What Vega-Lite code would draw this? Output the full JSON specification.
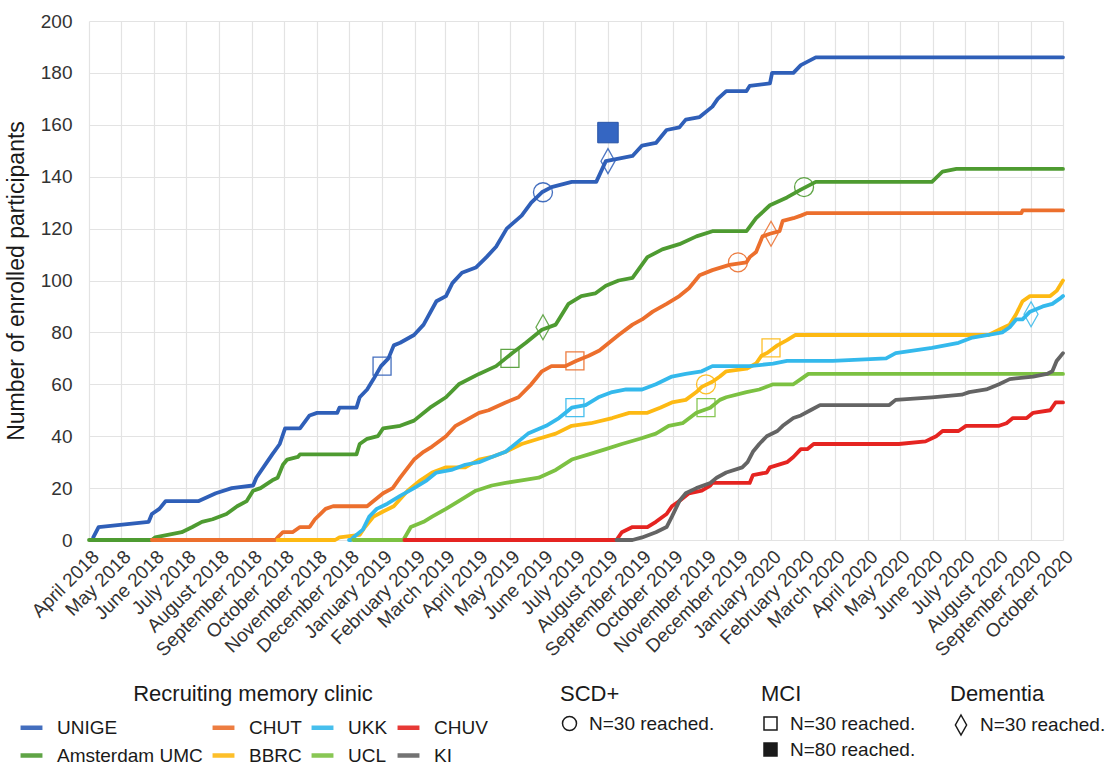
{
  "$schema": "https://vega.github.io/schema/vega-lite/v6.json",
  "width": 974,
  "height": 519,
  "autosize": {"type": "none"},
  "padding": {"left": 89, "top": 21, "right": 46, "bottom": 224},
  "background": "white",
  "config": {
    "font": "Liberation Sans",
    "view": {"stroke": null},
    "axis": {"gridColor": "#E3E3E3", "gridWidth": 1.2, "domain": false, "ticks": false, "labelColor": "#333333", "titleColor": "#1a1a1a", "labelFont": "Liberation Sans", "titleFont": "Liberation Sans", "titleFontWeight": "normal"},
    "legend": {"labelFont": "Liberation Sans", "titleFont": "Liberation Sans", "labelColor": "#1a1a1a", "titleColor": "#1a1a1a", "titleFontWeight": "normal", "labelFontSize": 19, "titleFontSize": 22, "padding": 0, "labelLimit": 300, "titleLimit": 500}
  },
  "datasets": {
    "lines": [
      {"clinic": "UNIGE", "date": "2018-04-05", "n": 1},
      {"clinic": "UNIGE", "date": "2018-04-10", "n": 5},
      {"clinic": "UNIGE", "date": "2018-05-27", "n": 7},
      {"clinic": "UNIGE", "date": "2018-05-30", "n": 10},
      {"clinic": "UNIGE", "date": "2018-06-06", "n": 12},
      {"clinic": "UNIGE", "date": "2018-06-12", "n": 15},
      {"clinic": "UNIGE", "date": "2018-07-13", "n": 15},
      {"clinic": "UNIGE", "date": "2018-07-29", "n": 18},
      {"clinic": "UNIGE", "date": "2018-08-13", "n": 20},
      {"clinic": "UNIGE", "date": "2018-09-02", "n": 21},
      {"clinic": "UNIGE", "date": "2018-09-05", "n": 24},
      {"clinic": "UNIGE", "date": "2018-09-15", "n": 30},
      {"clinic": "UNIGE", "date": "2018-09-20", "n": 33},
      {"clinic": "UNIGE", "date": "2018-09-27", "n": 37},
      {"clinic": "UNIGE", "date": "2018-10-02", "n": 43},
      {"clinic": "UNIGE", "date": "2018-10-16", "n": 43},
      {"clinic": "UNIGE", "date": "2018-10-25", "n": 48},
      {"clinic": "UNIGE", "date": "2018-11-01", "n": 49},
      {"clinic": "UNIGE", "date": "2018-11-20", "n": 49},
      {"clinic": "UNIGE", "date": "2018-11-22", "n": 51},
      {"clinic": "UNIGE", "date": "2018-12-08", "n": 51},
      {"clinic": "UNIGE", "date": "2018-12-11", "n": 55},
      {"clinic": "UNIGE", "date": "2018-12-18", "n": 58},
      {"clinic": "UNIGE", "date": "2018-12-24", "n": 62},
      {"clinic": "UNIGE", "date": "2018-12-31", "n": 67},
      {"clinic": "UNIGE", "date": "2019-01-07", "n": 70},
      {"clinic": "UNIGE", "date": "2019-01-12", "n": 75},
      {"clinic": "UNIGE", "date": "2019-01-18", "n": 76},
      {"clinic": "UNIGE", "date": "2019-01-31", "n": 79},
      {"clinic": "UNIGE", "date": "2019-02-09", "n": 83},
      {"clinic": "UNIGE", "date": "2019-02-21", "n": 92},
      {"clinic": "UNIGE", "date": "2019-03-02", "n": 94},
      {"clinic": "UNIGE", "date": "2019-03-08", "n": 99},
      {"clinic": "UNIGE", "date": "2019-03-17", "n": 103},
      {"clinic": "UNIGE", "date": "2019-03-30", "n": 105},
      {"clinic": "UNIGE", "date": "2019-04-09", "n": 109},
      {"clinic": "UNIGE", "date": "2019-04-18", "n": 113},
      {"clinic": "UNIGE", "date": "2019-04-28", "n": 120},
      {"clinic": "UNIGE", "date": "2019-05-12", "n": 125},
      {"clinic": "UNIGE", "date": "2019-05-21", "n": 130},
      {"clinic": "UNIGE", "date": "2019-05-31", "n": 134},
      {"clinic": "UNIGE", "date": "2019-06-09", "n": 136},
      {"clinic": "UNIGE", "date": "2019-06-28", "n": 138},
      {"clinic": "UNIGE", "date": "2019-07-21", "n": 138},
      {"clinic": "UNIGE", "date": "2019-07-30", "n": 146},
      {"clinic": "UNIGE", "date": "2019-08-11", "n": 147},
      {"clinic": "UNIGE", "date": "2019-08-24", "n": 148},
      {"clinic": "UNIGE", "date": "2019-09-02", "n": 152},
      {"clinic": "UNIGE", "date": "2019-09-15", "n": 153},
      {"clinic": "UNIGE", "date": "2019-09-25", "n": 158},
      {"clinic": "UNIGE", "date": "2019-10-07", "n": 159},
      {"clinic": "UNIGE", "date": "2019-10-13", "n": 162},
      {"clinic": "UNIGE", "date": "2019-10-26", "n": 163},
      {"clinic": "UNIGE", "date": "2019-11-07", "n": 167},
      {"clinic": "UNIGE", "date": "2019-11-12", "n": 170},
      {"clinic": "UNIGE", "date": "2019-11-20", "n": 173},
      {"clinic": "UNIGE", "date": "2019-12-09", "n": 173},
      {"clinic": "UNIGE", "date": "2019-12-12", "n": 175},
      {"clinic": "UNIGE", "date": "2019-12-31", "n": 176},
      {"clinic": "UNIGE", "date": "2020-01-02", "n": 180},
      {"clinic": "UNIGE", "date": "2020-01-22", "n": 180},
      {"clinic": "UNIGE", "date": "2020-01-29", "n": 183},
      {"clinic": "UNIGE", "date": "2020-02-12", "n": 186},
      {"clinic": "UNIGE", "date": "2020-10-01", "n": 186},

      {"clinic": "Amsterdam UMC", "date": "2018-04-01", "n": 0},
      {"clinic": "Amsterdam UMC", "date": "2018-05-30", "n": 0},
      {"clinic": "Amsterdam UMC", "date": "2018-06-02", "n": 1},
      {"clinic": "Amsterdam UMC", "date": "2018-06-27", "n": 3},
      {"clinic": "Amsterdam UMC", "date": "2018-07-07", "n": 5},
      {"clinic": "Amsterdam UMC", "date": "2018-07-16", "n": 7},
      {"clinic": "Amsterdam UMC", "date": "2018-07-26", "n": 8},
      {"clinic": "Amsterdam UMC", "date": "2018-08-08", "n": 10},
      {"clinic": "Amsterdam UMC", "date": "2018-08-18", "n": 13},
      {"clinic": "Amsterdam UMC", "date": "2018-08-27", "n": 15},
      {"clinic": "Amsterdam UMC", "date": "2018-09-02", "n": 19},
      {"clinic": "Amsterdam UMC", "date": "2018-09-09", "n": 20},
      {"clinic": "Amsterdam UMC", "date": "2018-09-20", "n": 23},
      {"clinic": "Amsterdam UMC", "date": "2018-09-25", "n": 24},
      {"clinic": "Amsterdam UMC", "date": "2018-09-30", "n": 29},
      {"clinic": "Amsterdam UMC", "date": "2018-10-04", "n": 31},
      {"clinic": "Amsterdam UMC", "date": "2018-10-14", "n": 32},
      {"clinic": "Amsterdam UMC", "date": "2018-10-16", "n": 33},
      {"clinic": "Amsterdam UMC", "date": "2018-12-08", "n": 33},
      {"clinic": "Amsterdam UMC", "date": "2018-12-11", "n": 37},
      {"clinic": "Amsterdam UMC", "date": "2018-12-18", "n": 39},
      {"clinic": "Amsterdam UMC", "date": "2018-12-28", "n": 40},
      {"clinic": "Amsterdam UMC", "date": "2019-01-02", "n": 43},
      {"clinic": "Amsterdam UMC", "date": "2019-01-18", "n": 44},
      {"clinic": "Amsterdam UMC", "date": "2019-01-31", "n": 46},
      {"clinic": "Amsterdam UMC", "date": "2019-02-15", "n": 51},
      {"clinic": "Amsterdam UMC", "date": "2019-03-02", "n": 55},
      {"clinic": "Amsterdam UMC", "date": "2019-03-14", "n": 60},
      {"clinic": "Amsterdam UMC", "date": "2019-04-02", "n": 64},
      {"clinic": "Amsterdam UMC", "date": "2019-04-18", "n": 67},
      {"clinic": "Amsterdam UMC", "date": "2019-05-03", "n": 72},
      {"clinic": "Amsterdam UMC", "date": "2019-05-16", "n": 76},
      {"clinic": "Amsterdam UMC", "date": "2019-05-31", "n": 81},
      {"clinic": "Amsterdam UMC", "date": "2019-06-13", "n": 83},
      {"clinic": "Amsterdam UMC", "date": "2019-06-25", "n": 91},
      {"clinic": "Amsterdam UMC", "date": "2019-07-07", "n": 94},
      {"clinic": "Amsterdam UMC", "date": "2019-07-20", "n": 95},
      {"clinic": "Amsterdam UMC", "date": "2019-07-30", "n": 98},
      {"clinic": "Amsterdam UMC", "date": "2019-08-11", "n": 100},
      {"clinic": "Amsterdam UMC", "date": "2019-08-24", "n": 101},
      {"clinic": "Amsterdam UMC", "date": "2019-09-07", "n": 109},
      {"clinic": "Amsterdam UMC", "date": "2019-09-21", "n": 112},
      {"clinic": "Amsterdam UMC", "date": "2019-10-07", "n": 114},
      {"clinic": "Amsterdam UMC", "date": "2019-10-23", "n": 117},
      {"clinic": "Amsterdam UMC", "date": "2019-11-07", "n": 119},
      {"clinic": "Amsterdam UMC", "date": "2019-12-09", "n": 119},
      {"clinic": "Amsterdam UMC", "date": "2019-12-18", "n": 124},
      {"clinic": "Amsterdam UMC", "date": "2019-12-31", "n": 129},
      {"clinic": "Amsterdam UMC", "date": "2020-01-16", "n": 132},
      {"clinic": "Amsterdam UMC", "date": "2020-01-29", "n": 135},
      {"clinic": "Amsterdam UMC", "date": "2020-02-12", "n": 138},
      {"clinic": "Amsterdam UMC", "date": "2020-05-31", "n": 138},
      {"clinic": "Amsterdam UMC", "date": "2020-06-10", "n": 142},
      {"clinic": "Amsterdam UMC", "date": "2020-06-23", "n": 143},
      {"clinic": "Amsterdam UMC", "date": "2020-10-01", "n": 143},

      {"clinic": "CHUT", "date": "2018-05-30", "n": 0},
      {"clinic": "CHUT", "date": "2018-09-23", "n": 0},
      {"clinic": "CHUT", "date": "2018-09-25", "n": 1},
      {"clinic": "CHUT", "date": "2018-09-30", "n": 3},
      {"clinic": "CHUT", "date": "2018-10-09", "n": 3},
      {"clinic": "CHUT", "date": "2018-10-16", "n": 5},
      {"clinic": "CHUT", "date": "2018-10-25", "n": 5},
      {"clinic": "CHUT", "date": "2018-10-30", "n": 8},
      {"clinic": "CHUT", "date": "2018-11-04", "n": 10},
      {"clinic": "CHUT", "date": "2018-11-09", "n": 12},
      {"clinic": "CHUT", "date": "2018-11-16", "n": 13},
      {"clinic": "CHUT", "date": "2018-12-18", "n": 13},
      {"clinic": "CHUT", "date": "2018-12-24", "n": 15},
      {"clinic": "CHUT", "date": "2019-01-02", "n": 18},
      {"clinic": "CHUT", "date": "2019-01-11", "n": 20},
      {"clinic": "CHUT", "date": "2019-01-18", "n": 24},
      {"clinic": "CHUT", "date": "2019-01-31", "n": 31},
      {"clinic": "CHUT", "date": "2019-02-09", "n": 34},
      {"clinic": "CHUT", "date": "2019-02-17", "n": 36},
      {"clinic": "CHUT", "date": "2019-03-02", "n": 40},
      {"clinic": "CHUT", "date": "2019-03-11", "n": 44},
      {"clinic": "CHUT", "date": "2019-03-20", "n": 46},
      {"clinic": "CHUT", "date": "2019-04-02", "n": 49},
      {"clinic": "CHUT", "date": "2019-04-11", "n": 50},
      {"clinic": "CHUT", "date": "2019-04-27", "n": 53},
      {"clinic": "CHUT", "date": "2019-05-09", "n": 55},
      {"clinic": "CHUT", "date": "2019-05-21", "n": 60},
      {"clinic": "CHUT", "date": "2019-05-31", "n": 65},
      {"clinic": "CHUT", "date": "2019-06-09", "n": 67},
      {"clinic": "CHUT", "date": "2019-06-22", "n": 67},
      {"clinic": "CHUT", "date": "2019-07-02", "n": 69},
      {"clinic": "CHUT", "date": "2019-07-14", "n": 71},
      {"clinic": "CHUT", "date": "2019-07-24", "n": 73},
      {"clinic": "CHUT", "date": "2019-08-02", "n": 76},
      {"clinic": "CHUT", "date": "2019-08-11", "n": 79},
      {"clinic": "CHUT", "date": "2019-08-24", "n": 83},
      {"clinic": "CHUT", "date": "2019-09-02", "n": 85},
      {"clinic": "CHUT", "date": "2019-09-12", "n": 88},
      {"clinic": "CHUT", "date": "2019-09-25", "n": 91},
      {"clinic": "CHUT", "date": "2019-10-07", "n": 94},
      {"clinic": "CHUT", "date": "2019-10-16", "n": 97},
      {"clinic": "CHUT", "date": "2019-10-26", "n": 102},
      {"clinic": "CHUT", "date": "2019-11-07", "n": 104},
      {"clinic": "CHUT", "date": "2019-11-23", "n": 106},
      {"clinic": "CHUT", "date": "2019-12-09", "n": 107},
      {"clinic": "CHUT", "date": "2019-12-12", "n": 109},
      {"clinic": "CHUT", "date": "2019-12-18", "n": 111},
      {"clinic": "CHUT", "date": "2019-12-24", "n": 117},
      {"clinic": "CHUT", "date": "2019-12-31", "n": 118},
      {"clinic": "CHUT", "date": "2020-01-09", "n": 119},
      {"clinic": "CHUT", "date": "2020-01-12", "n": 123},
      {"clinic": "CHUT", "date": "2020-01-22", "n": 124},
      {"clinic": "CHUT", "date": "2020-01-29", "n": 125},
      {"clinic": "CHUT", "date": "2020-02-04", "n": 126},
      {"clinic": "CHUT", "date": "2020-08-23", "n": 126},
      {"clinic": "CHUT", "date": "2020-08-24", "n": 127},
      {"clinic": "CHUT", "date": "2020-10-01", "n": 127},

      {"clinic": "BBRC", "date": "2018-09-25", "n": 0},
      {"clinic": "BBRC", "date": "2018-11-18", "n": 0},
      {"clinic": "BBRC", "date": "2018-11-22", "n": 1},
      {"clinic": "BBRC", "date": "2018-12-11", "n": 2},
      {"clinic": "BBRC", "date": "2018-12-16", "n": 5},
      {"clinic": "BBRC", "date": "2018-12-24", "n": 9},
      {"clinic": "BBRC", "date": "2019-01-02", "n": 11},
      {"clinic": "BBRC", "date": "2019-01-12", "n": 13},
      {"clinic": "BBRC", "date": "2019-01-25", "n": 19},
      {"clinic": "BBRC", "date": "2019-02-06", "n": 23},
      {"clinic": "BBRC", "date": "2019-02-17", "n": 26},
      {"clinic": "BBRC", "date": "2019-03-02", "n": 28},
      {"clinic": "BBRC", "date": "2019-03-20", "n": 28},
      {"clinic": "BBRC", "date": "2019-04-02", "n": 31},
      {"clinic": "BBRC", "date": "2019-04-14", "n": 32},
      {"clinic": "BBRC", "date": "2019-04-27", "n": 34},
      {"clinic": "BBRC", "date": "2019-05-12", "n": 37},
      {"clinic": "BBRC", "date": "2019-05-28", "n": 39},
      {"clinic": "BBRC", "date": "2019-06-13", "n": 41},
      {"clinic": "BBRC", "date": "2019-06-28", "n": 44},
      {"clinic": "BBRC", "date": "2019-07-16", "n": 45},
      {"clinic": "BBRC", "date": "2019-08-05", "n": 47},
      {"clinic": "BBRC", "date": "2019-08-21", "n": 49},
      {"clinic": "BBRC", "date": "2019-09-07", "n": 49},
      {"clinic": "BBRC", "date": "2019-09-19", "n": 51},
      {"clinic": "BBRC", "date": "2019-09-30", "n": 53},
      {"clinic": "BBRC", "date": "2019-10-13", "n": 54},
      {"clinic": "BBRC", "date": "2019-10-23", "n": 57},
      {"clinic": "BBRC", "date": "2019-10-28", "n": 59},
      {"clinic": "BBRC", "date": "2019-11-07", "n": 61},
      {"clinic": "BBRC", "date": "2019-11-14", "n": 63},
      {"clinic": "BBRC", "date": "2019-11-20", "n": 65},
      {"clinic": "BBRC", "date": "2019-12-09", "n": 66},
      {"clinic": "BBRC", "date": "2019-12-18", "n": 68},
      {"clinic": "BBRC", "date": "2019-12-23", "n": 71},
      {"clinic": "BBRC", "date": "2019-12-28", "n": 72},
      {"clinic": "BBRC", "date": "2020-01-07", "n": 75},
      {"clinic": "BBRC", "date": "2020-01-16", "n": 77},
      {"clinic": "BBRC", "date": "2020-01-24", "n": 79},
      {"clinic": "BBRC", "date": "2020-07-23", "n": 79},
      {"clinic": "BBRC", "date": "2020-08-02", "n": 81},
      {"clinic": "BBRC", "date": "2020-08-12", "n": 83},
      {"clinic": "BBRC", "date": "2020-08-18", "n": 87},
      {"clinic": "BBRC", "date": "2020-08-24", "n": 92},
      {"clinic": "BBRC", "date": "2020-08-31", "n": 94},
      {"clinic": "BBRC", "date": "2020-09-19", "n": 94},
      {"clinic": "BBRC", "date": "2020-09-25", "n": 96},
      {"clinic": "BBRC", "date": "2020-10-01", "n": 100},

      {"clinic": "UKK", "date": "2018-12-01", "n": 0},
      {"clinic": "UKK", "date": "2018-12-03", "n": 0},
      {"clinic": "UKK", "date": "2018-12-05", "n": 1},
      {"clinic": "UKK", "date": "2018-12-14", "n": 4},
      {"clinic": "UKK", "date": "2018-12-20", "n": 9},
      {"clinic": "UKK", "date": "2018-12-27", "n": 12},
      {"clinic": "UKK", "date": "2019-01-06", "n": 14},
      {"clinic": "UKK", "date": "2019-01-18", "n": 17},
      {"clinic": "UKK", "date": "2019-01-31", "n": 20},
      {"clinic": "UKK", "date": "2019-02-12", "n": 23},
      {"clinic": "UKK", "date": "2019-02-21", "n": 26},
      {"clinic": "UKK", "date": "2019-03-07", "n": 27},
      {"clinic": "UKK", "date": "2019-03-20", "n": 29},
      {"clinic": "UKK", "date": "2019-04-02", "n": 30},
      {"clinic": "UKK", "date": "2019-04-14", "n": 32},
      {"clinic": "UKK", "date": "2019-04-27", "n": 34},
      {"clinic": "UKK", "date": "2019-05-09", "n": 38},
      {"clinic": "UKK", "date": "2019-05-18", "n": 41},
      {"clinic": "UKK", "date": "2019-06-04", "n": 44},
      {"clinic": "UKK", "date": "2019-06-16", "n": 47},
      {"clinic": "UKK", "date": "2019-06-28", "n": 51},
      {"clinic": "UKK", "date": "2019-07-11", "n": 52},
      {"clinic": "UKK", "date": "2019-07-23", "n": 55},
      {"clinic": "UKK", "date": "2019-08-05", "n": 57},
      {"clinic": "UKK", "date": "2019-08-18", "n": 58},
      {"clinic": "UKK", "date": "2019-09-02", "n": 58},
      {"clinic": "UKK", "date": "2019-09-15", "n": 60},
      {"clinic": "UKK", "date": "2019-09-30", "n": 63},
      {"clinic": "UKK", "date": "2019-10-13", "n": 64},
      {"clinic": "UKK", "date": "2019-10-28", "n": 65},
      {"clinic": "UKK", "date": "2019-11-07", "n": 67},
      {"clinic": "UKK", "date": "2019-12-12", "n": 67},
      {"clinic": "UKK", "date": "2020-01-03", "n": 68},
      {"clinic": "UKK", "date": "2020-01-16", "n": 69},
      {"clinic": "UKK", "date": "2020-02-28", "n": 69},
      {"clinic": "UKK", "date": "2020-04-18", "n": 70},
      {"clinic": "UKK", "date": "2020-04-27", "n": 72},
      {"clinic": "UKK", "date": "2020-05-31", "n": 74},
      {"clinic": "UKK", "date": "2020-06-25", "n": 76},
      {"clinic": "UKK", "date": "2020-07-08", "n": 78},
      {"clinic": "UKK", "date": "2020-07-23", "n": 79},
      {"clinic": "UKK", "date": "2020-08-05", "n": 80},
      {"clinic": "UKK", "date": "2020-08-12", "n": 82},
      {"clinic": "UKK", "date": "2020-08-18", "n": 85},
      {"clinic": "UKK", "date": "2020-08-24", "n": 85},
      {"clinic": "UKK", "date": "2020-08-31", "n": 88},
      {"clinic": "UKK", "date": "2020-09-12", "n": 90},
      {"clinic": "UKK", "date": "2020-09-21", "n": 91},
      {"clinic": "UKK", "date": "2020-09-28", "n": 93},
      {"clinic": "UKK", "date": "2020-10-01", "n": 94},

      {"clinic": "UCL", "date": "2018-12-05", "n": 0},
      {"clinic": "UCL", "date": "2019-01-21", "n": 0},
      {"clinic": "UCL", "date": "2019-01-28", "n": 5},
      {"clinic": "UCL", "date": "2019-02-09", "n": 7},
      {"clinic": "UCL", "date": "2019-02-17", "n": 9},
      {"clinic": "UCL", "date": "2019-03-02", "n": 12},
      {"clinic": "UCL", "date": "2019-03-14", "n": 15},
      {"clinic": "UCL", "date": "2019-03-30", "n": 19},
      {"clinic": "UCL", "date": "2019-04-14", "n": 21},
      {"clinic": "UCL", "date": "2019-04-27", "n": 22},
      {"clinic": "UCL", "date": "2019-05-12", "n": 23},
      {"clinic": "UCL", "date": "2019-05-28", "n": 24},
      {"clinic": "UCL", "date": "2019-06-13", "n": 27},
      {"clinic": "UCL", "date": "2019-06-28", "n": 31},
      {"clinic": "UCL", "date": "2019-07-14", "n": 33},
      {"clinic": "UCL", "date": "2019-07-30", "n": 35},
      {"clinic": "UCL", "date": "2019-08-14", "n": 37},
      {"clinic": "UCL", "date": "2019-08-31", "n": 39},
      {"clinic": "UCL", "date": "2019-09-15", "n": 41},
      {"clinic": "UCL", "date": "2019-09-27", "n": 44},
      {"clinic": "UCL", "date": "2019-10-10", "n": 45},
      {"clinic": "UCL", "date": "2019-10-23", "n": 49},
      {"clinic": "UCL", "date": "2019-11-05", "n": 51},
      {"clinic": "UCL", "date": "2019-11-14", "n": 54},
      {"clinic": "UCL", "date": "2019-11-20", "n": 55},
      {"clinic": "UCL", "date": "2019-12-09", "n": 57},
      {"clinic": "UCL", "date": "2019-12-21", "n": 58},
      {"clinic": "UCL", "date": "2020-01-03", "n": 60},
      {"clinic": "UCL", "date": "2020-01-22", "n": 60},
      {"clinic": "UCL", "date": "2020-01-29", "n": 62},
      {"clinic": "UCL", "date": "2020-02-05", "n": 64},
      {"clinic": "UCL", "date": "2020-10-01", "n": 64},

      {"clinic": "CHUV", "date": "2019-01-22", "n": 0},
      {"clinic": "CHUV", "date": "2019-08-09", "n": 0},
      {"clinic": "CHUV", "date": "2019-08-14", "n": 3},
      {"clinic": "CHUV", "date": "2019-08-24", "n": 5},
      {"clinic": "CHUV", "date": "2019-09-07", "n": 5},
      {"clinic": "CHUV", "date": "2019-09-15", "n": 7},
      {"clinic": "CHUV", "date": "2019-09-25", "n": 10},
      {"clinic": "CHUV", "date": "2019-09-30", "n": 13},
      {"clinic": "CHUV", "date": "2019-10-07", "n": 15},
      {"clinic": "CHUV", "date": "2019-10-16", "n": 18},
      {"clinic": "CHUV", "date": "2019-10-28", "n": 19},
      {"clinic": "CHUV", "date": "2019-11-05", "n": 21},
      {"clinic": "CHUV", "date": "2019-11-07", "n": 22},
      {"clinic": "CHUV", "date": "2019-12-12", "n": 22},
      {"clinic": "CHUV", "date": "2019-12-15", "n": 25},
      {"clinic": "CHUV", "date": "2019-12-28", "n": 26},
      {"clinic": "CHUV", "date": "2019-12-31", "n": 28},
      {"clinic": "CHUV", "date": "2020-01-16", "n": 30},
      {"clinic": "CHUV", "date": "2020-01-22", "n": 32},
      {"clinic": "CHUV", "date": "2020-01-29", "n": 35},
      {"clinic": "CHUV", "date": "2020-02-04", "n": 35},
      {"clinic": "CHUV", "date": "2020-02-10", "n": 37},
      {"clinic": "CHUV", "date": "2020-04-30", "n": 37},
      {"clinic": "CHUV", "date": "2020-05-25", "n": 38},
      {"clinic": "CHUV", "date": "2020-06-04", "n": 40},
      {"clinic": "CHUV", "date": "2020-06-10", "n": 42},
      {"clinic": "CHUV", "date": "2020-06-25", "n": 42},
      {"clinic": "CHUV", "date": "2020-07-02", "n": 44},
      {"clinic": "CHUV", "date": "2020-08-02", "n": 44},
      {"clinic": "CHUV", "date": "2020-08-09", "n": 45},
      {"clinic": "CHUV", "date": "2020-08-15", "n": 47},
      {"clinic": "CHUV", "date": "2020-08-28", "n": 47},
      {"clinic": "CHUV", "date": "2020-09-03", "n": 49},
      {"clinic": "CHUV", "date": "2020-09-19", "n": 50},
      {"clinic": "CHUV", "date": "2020-09-24", "n": 53},
      {"clinic": "CHUV", "date": "2020-10-01", "n": 53},

      {"clinic": "KI", "date": "2019-08-09", "n": 0},
      {"clinic": "KI", "date": "2019-08-24", "n": 0},
      {"clinic": "KI", "date": "2019-09-02", "n": 1},
      {"clinic": "KI", "date": "2019-09-15", "n": 3},
      {"clinic": "KI", "date": "2019-09-25", "n": 5},
      {"clinic": "KI", "date": "2019-09-30", "n": 9},
      {"clinic": "KI", "date": "2019-10-07", "n": 15},
      {"clinic": "KI", "date": "2019-10-13", "n": 18},
      {"clinic": "KI", "date": "2019-10-23", "n": 20},
      {"clinic": "KI", "date": "2019-11-05", "n": 22},
      {"clinic": "KI", "date": "2019-11-11", "n": 24},
      {"clinic": "KI", "date": "2019-11-20", "n": 26},
      {"clinic": "KI", "date": "2019-12-05", "n": 28},
      {"clinic": "KI", "date": "2019-12-10", "n": 30},
      {"clinic": "KI", "date": "2019-12-15", "n": 34},
      {"clinic": "KI", "date": "2019-12-21", "n": 37},
      {"clinic": "KI", "date": "2019-12-28", "n": 40},
      {"clinic": "KI", "date": "2020-01-07", "n": 42},
      {"clinic": "KI", "date": "2020-01-12", "n": 44},
      {"clinic": "KI", "date": "2020-01-22", "n": 47},
      {"clinic": "KI", "date": "2020-01-29", "n": 48},
      {"clinic": "KI", "date": "2020-02-07", "n": 50},
      {"clinic": "KI", "date": "2020-02-16", "n": 52},
      {"clinic": "KI", "date": "2020-04-21", "n": 52},
      {"clinic": "KI", "date": "2020-04-27", "n": 54},
      {"clinic": "KI", "date": "2020-05-31", "n": 55},
      {"clinic": "KI", "date": "2020-06-28", "n": 56},
      {"clinic": "KI", "date": "2020-07-05", "n": 57},
      {"clinic": "KI", "date": "2020-07-21", "n": 58},
      {"clinic": "KI", "date": "2020-08-02", "n": 60},
      {"clinic": "KI", "date": "2020-08-12", "n": 62},
      {"clinic": "KI", "date": "2020-09-03", "n": 63},
      {"clinic": "KI", "date": "2020-09-16", "n": 64},
      {"clinic": "KI", "date": "2020-09-21", "n": 65},
      {"clinic": "KI", "date": "2020-09-25", "n": 69},
      {"clinic": "KI", "date": "2020-10-01", "n": 72}
    ],
    "marks": [
      {"clinic": "UNIGE", "date": "2019-01-01", "n": 67, "group": "MCI", "label": "N=30 reached."},
      {"clinic": "UNIGE", "date": "2019-06-01", "n": 134, "group": "SCD+", "label": "N=30 reached."},
      {"clinic": "UNIGE", "date": "2019-08-01", "n": 157, "group": "MCI", "label": "N=80 reached."},
      {"clinic": "UNIGE", "date": "2019-08-01", "n": 146, "group": "Dementia", "label": "N=30 reached."},
      {"clinic": "Amsterdam UMC", "date": "2019-05-01", "n": 70, "group": "MCI", "label": "N=30 reached."},
      {"clinic": "Amsterdam UMC", "date": "2019-06-01", "n": 82, "group": "Dementia", "label": "N=30 reached."},
      {"clinic": "Amsterdam UMC", "date": "2020-02-01", "n": 136, "group": "SCD+", "label": "N=30 reached."},
      {"clinic": "CHUT", "date": "2019-07-01", "n": 69, "group": "MCI", "label": "N=30 reached."},
      {"clinic": "CHUT", "date": "2019-12-01", "n": 107, "group": "SCD+", "label": "N=30 reached."},
      {"clinic": "CHUT", "date": "2020-01-01", "n": 118, "group": "Dementia", "label": "N=30 reached."},
      {"clinic": "UKK", "date": "2019-07-01", "n": 51, "group": "MCI", "label": "N=30 reached."},
      {"clinic": "UKK", "date": "2020-09-01", "n": 87, "group": "Dementia", "label": "N=30 reached."},
      {"clinic": "BBRC", "date": "2019-11-01", "n": 60, "group": "SCD+", "label": "N=30 reached."},
      {"clinic": "BBRC", "date": "2020-01-01", "n": 74, "group": "MCI", "label": "N=30 reached."},
      {"clinic": "UCL", "date": "2019-11-01", "n": 51, "group": "MCI", "label": "N=30 reached."}
    ]
  },
  "layer": [
    {
      "data": {"name": "lines"},
      "mark": {"type": "line", "strokeWidth": 3.8, "strokeJoin": "round", "strokeCap": "round"},
      "encoding": {
        "x": {
          "field": "date", "type": "temporal",
          "scale": {"type": "utc", "domain": [{"year": 2018, "month": 4, "date": 1, "utc": true}, {"year": 2020, "month": 10, "date": 1, "utc": true}]},
          "axis": {"title": null, "format": "%B %Y", "tickCount": {"interval": "month", "step": 1}, "labelAngle": -45, "labelFontSize": 19, "labelPadding": 7, "grid": true, "labelOverlap": false, "labelFlush": false, "labelBound": false}
        },
        "y": {
          "field": "n", "type": "quantitative",
          "scale": {"domain": [0, 200], "nice": false},
          "axis": {"title": "Number of enrolled participants", "values": [0, 20, 40, 60, 80, 100, 120, 140, 160, 180, 200], "labelFontSize": 19, "titleFontSize": 23, "labelPadding": 17, "titlePadding": 12, "grid": true}
        },
        "color": {
          "field": "clinic", "type": "nominal",
          "scale": {
            "domain": ["UNIGE", "CHUT", "UKK", "CHUV", "Amsterdam UMC", "BBRC", "UCL", "KI"],
            "range": ["#2F5FB8", "#EC6F2D", "#34B9EC", "#E52421", "#4E9B31", "#FDB913", "#7CC142", "#646464"]
          },
          "legend": {
            "title": "Recruiting memory clinic", "orient": "none", "legendX": -71, "legendY": 663,
            "columns": 4, "direction": "horizontal", "symbolType": "stroke", "symbolStrokeWidth": 4.5,
            "symbolSize": 480, "labelOffset": 12, "columnPadding": 0, "rowPadding": 4,
            "titleAnchor": "middle", "titlePadding": 8
          }
        }
      }
    },
    {
      "data": {"name": "marks"},
      "transform": [{"filter": "datum.group === 'SCD+'"}],
      "mark": {"type": "point", "filled": false, "strokeWidth": 1.3, "opacity": 0.9, "size": 361},
      "encoding": {
        "x": {"field": "date", "type": "temporal", "scale": {"type": "utc"}},
        "y": {"field": "n", "type": "quantitative"},
        "color": {"field": "clinic", "type": "nominal"},
        "shape": {
          "field": "label", "type": "nominal",
          "scale": {"domain": ["N=30 reached."], "range": ["circle"]},
          "legend": {
            "title": "SCD+", "orient": "none", "legendX": 471, "legendY": 663, "titleAnchor": "start",
            "titlePadding": 8, "symbolSize": 196, "labelOffset": 10,
            "symbolStrokeColor": "#1a1a1a", "symbolFillColor": "transparent", "symbolStrokeWidth": 1.5, "symbolOpacity": 1
          }
        }
      }
    },
    {
      "data": {"name": "marks"},
      "transform": [{"filter": "datum.group === 'MCI'"}],
      "mark": {"type": "point", "filled": false, "shape": "square", "strokeWidth": 1.3, "opacity": 0.9, "size": 324},
      "encoding": {
        "x": {"field": "date", "type": "temporal", "scale": {"type": "utc"}},
        "y": {"field": "n", "type": "quantitative"},
        "color": {"field": "clinic", "type": "nominal"},
        "fill": {
          "field": "label", "type": "nominal",
          "scale": {"domain": ["N=30 reached.", "N=80 reached."], "range": ["transparent", "#1a1a1a"]},
          "legend": {
            "title": "MCI", "orient": "none", "legendX": 672, "legendY": 663, "titleAnchor": "start",
            "titlePadding": 8, "rowPadding": 6, "symbolType": "square", "symbolSize": 169, "labelOffset": 10,
            "symbolStrokeColor": "#1a1a1a", "symbolStrokeWidth": 1.5, "symbolOpacity": 1
          }
        }
      }
    },
    {
      "data": {"name": "marks"},
      "transform": [{"filter": "datum.label === 'N=80 reached.'"}],
      "mark": {"type": "point", "filled": true, "shape": "square", "size": 420, "opacity": 1, "color": "#3566C2", "stroke": "#2A55A8", "strokeWidth": 1},
      "encoding": {
        "x": {"field": "date", "type": "temporal", "scale": {"type": "utc"}},
        "y": {"field": "n", "type": "quantitative"}
      }
    },
    {
      "data": {"name": "marks"},
      "transform": [{"filter": "datum.group === 'Dementia'"}],
      "mark": {"type": "point", "filled": false, "strokeWidth": 1.3, "opacity": 0.85, "size": 625},
      "encoding": {
        "x": {"field": "date", "type": "temporal", "scale": {"type": "utc"}},
        "y": {"field": "n", "type": "quantitative"},
        "color": {"field": "clinic", "type": "nominal"},
        "shape": {
          "field": "label", "type": "nominal",
          "scale": {"domain": ["N=30 reached."], "range": ["M0,-1L0.56,0L0,1L-0.56,0Z"]},
          "legend": {
            "title": "Dementia", "orient": "none", "legendX": 861, "legendY": 663, "titleAnchor": "start",
            "titlePadding": 8, "symbolSize": 400, "labelOffset": 8,
            "symbolStrokeColor": "#1a1a1a", "symbolFillColor": "transparent", "symbolStrokeWidth": 1.5, "symbolOpacity": 1
          }
        }
      }
    }
  ],
  "resolve": {"scale": {"shape": "independent"}}
}
